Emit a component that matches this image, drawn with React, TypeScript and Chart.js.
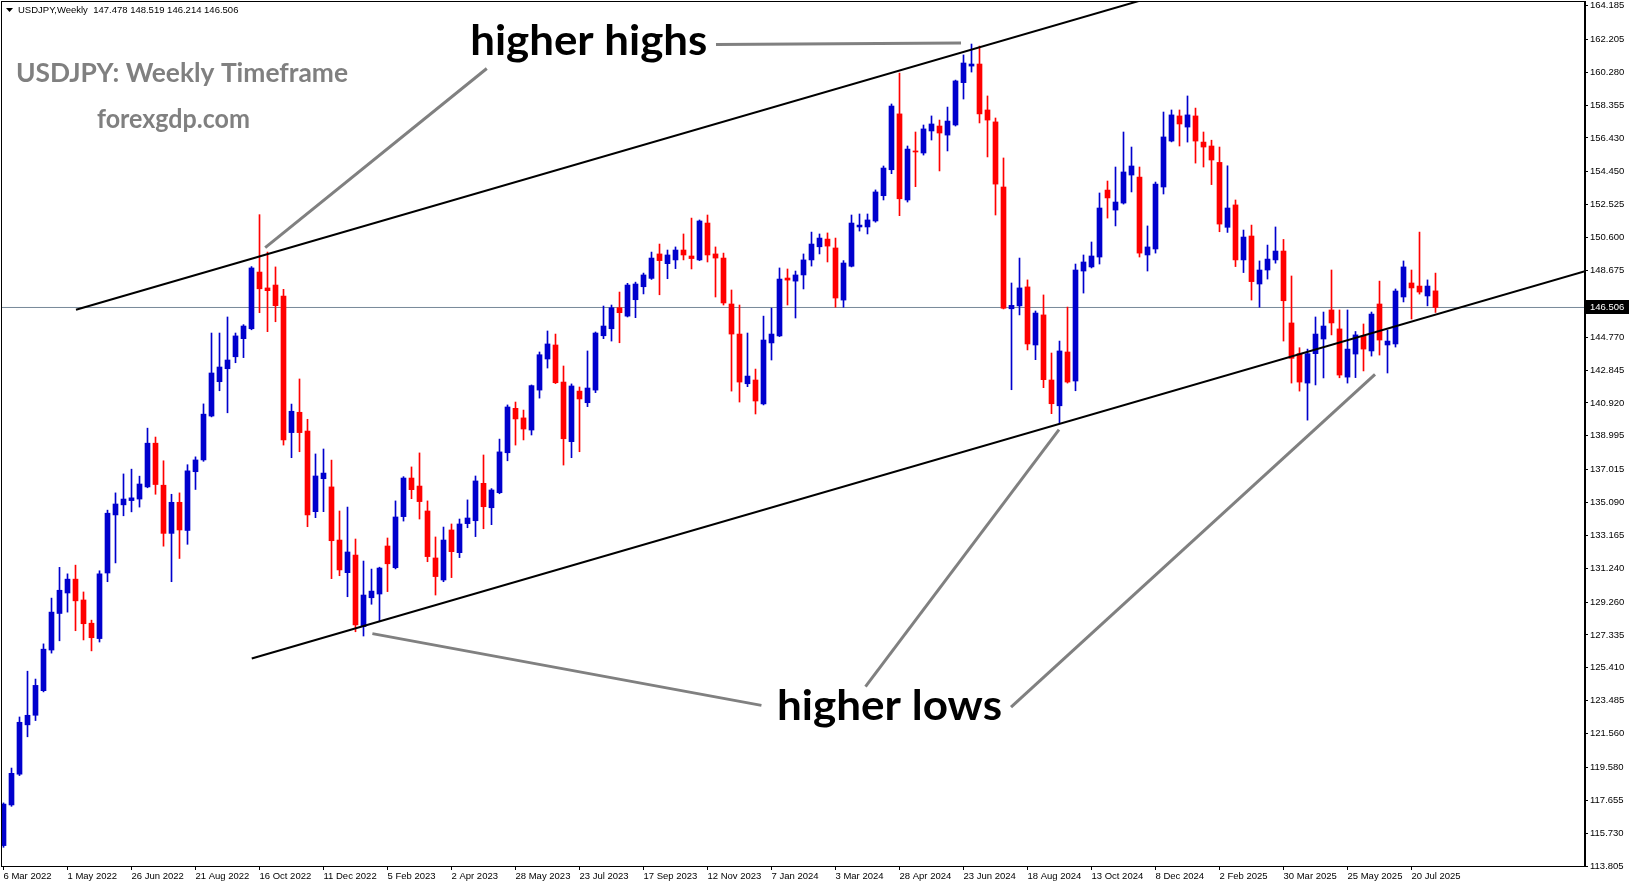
import React, { useEffect, useRef } from 'react';
import { Chart, registerables } from 'chart.js';

Chart.register(...registerables);

// ---- Weekly USDJPY candles (week index 0 = 6 Mar 2022) ----
const opens = [
  115.0, 117.38, 119.18, 122.07, 122.63, 124.07, 126.45, 128.59, 129.79, 130.6,
  129.38, 128.02, 127.12, 130.96, 134.36, 134.95, 135.2, 135.29, 136.0, 138.56,
  136.1, 133.28, 135.1, 133.45, 136.89, 137.58, 140.15, 142.16, 142.92, 143.62,
  144.68, 145.26, 148.58, 147.65, 147.82, 147.18, 139.18, 140.37, 139.27, 134.55,
  136.48, 136.0, 132.89, 130.98, 132.01, 127.82, 129.51, 129.73, 132.54, 131.27,
  134.26, 136.52, 136.05, 134.59, 131.84, 130.55, 133.48, 132.15, 133.85, 134.02,
  136.21, 134.78, 135.66, 138.0, 140.6, 140.04, 139.33, 141.67, 143.49, 144.31,
  142.14, 138.65, 141.61, 140.93, 141.67, 144.85, 145.26, 146.49, 146.0, 146.96,
  147.72, 148.21, 149.64, 149.07, 149.29, 149.87, 149.52, 149.29, 151.45, 149.64,
  149.4, 146.71, 144.95, 142.04, 142.26, 140.86, 144.43, 144.84, 148.23, 148.05,
  148.41, 149.29, 150.06, 150.51, 149.99, 146.94, 148.92, 151.22, 151.22, 151.57,
  153.05, 154.57, 157.84, 152.8, 155.67, 155.55, 156.84, 157.13, 156.6, 157.19,
  159.67, 160.64, 160.76, 158.07, 157.37, 153.56, 146.43, 146.6, 147.71, 144.31,
  146.07, 142.26, 140.75, 143.9, 142.2, 148.64, 148.88, 149.46, 153.38, 152.21,
  152.62, 154.26, 154.14, 149.58, 149.93, 153.56, 156.25, 157.72, 157.07, 157.72,
  156.19, 155.96, 155.0, 151.2, 152.51, 149.29, 150.69, 147.88, 148.7, 149.29,
  149.81, 145.6, 143.8, 142.08, 143.8, 144.66, 146.36, 145.25, 142.43, 143.78,
  144.84, 143.96, 146.71, 144.31, 144.37, 147.12, 147.94, 147.76, 147.18, 147.478,
];
const highs = [
  117.5, 119.54, 122.53, 125.21, 124.75, 126.81, 129.49, 131.29, 130.91, 131.42,
  129.85, 128.2, 131.09, 134.64, 135.65, 136.76, 137.04, 136.63, 139.44, 138.92,
  137.53, 135.57, 135.65, 137.3, 137.76, 140.86, 145.01, 145.01, 145.95, 145.01,
  145.5, 148.9, 151.94, 149.75, 148.88, 147.57, 140.85, 142.32, 139.96, 137.93,
  138.22, 137.57, 134.59, 134.82, 132.95, 131.66, 131.19, 131.3, 133.01, 135.18,
  136.6, 137.17, 137.99, 135.18, 133.07, 133.65, 133.83, 134.12, 135.24, 136.64,
  137.87, 135.9, 138.8, 140.8, 140.97, 140.5, 141.97, 143.9, 145.13, 144.95,
  143.08, 142.03, 141.85, 143.96, 145.07, 146.59, 146.65, 147.41, 147.92, 147.99,
  148.52, 149.75, 150.22, 149.87, 150.05, 150.81, 151.74, 151.63, 151.92, 150.05,
  149.69, 147.53, 146.65, 145.01, 142.9, 146.0, 146.47, 148.82, 148.76, 148.64,
  149.64, 150.92, 150.81, 150.87, 150.57, 149.25, 151.92, 151.98, 151.98, 153.39,
  154.79, 158.42, 160.23, 155.96, 156.78, 157.19, 157.72, 157.48, 158.24, 159.82,
  161.29, 161.93, 161.81, 158.89, 157.6, 155.26, 147.94, 149.4, 148.12, 146.3,
  147.24, 143.84, 144.54, 146.53, 149.05, 149.58, 150.34, 153.21, 153.91, 154.73,
  156.78, 155.9, 154.73, 151.28, 153.85, 157.95, 158.07, 158.07, 158.89, 158.18,
  156.78, 156.3, 155.9, 154.8, 152.8, 151.04, 151.33, 149.23, 150.16, 151.22,
  150.49, 148.35, 144.15, 144.07, 145.95, 146.24, 148.7, 146.36, 146.36, 145.1,
  145.54, 146.24, 148.05, 145.19, 147.59, 149.23, 148.7, 150.92, 148.12, 148.519,
];
const lows = [
  114.9, 117.3, 119.1, 121.37, 122.32, 124.0, 126.27, 126.99, 128.67, 127.58,
  127.04, 126.4, 126.92, 130.45, 131.55, 134.31, 134.54, 134.82, 135.95, 135.57,
  132.53, 130.45, 131.81, 132.64, 135.85, 137.5, 140.1, 141.63, 140.34, 143.27,
  143.57, 145.2, 146.2, 145.09, 145.67, 138.45, 137.71, 138.06, 133.67, 134.2,
  134.55, 130.63, 130.8, 129.57, 127.52, 127.27, 129.13, 128.11, 129.87, 131.2,
  134.0, 135.31, 134.12, 131.62, 129.67, 130.45, 130.69, 131.86, 133.61, 133.09,
  133.55, 133.79, 135.6, 137.53, 138.45, 138.75, 139.04, 141.2, 142.96, 142.05,
  137.28, 137.71, 138.06, 140.7, 141.52, 144.68, 144.54, 144.44, 145.95, 145.91,
  147.3, 148.15, 147.25, 148.19, 148.78, 149.29, 148.76, 149.25, 149.17, 147.12,
  146.65, 141.61, 140.97, 141.87, 140.27, 140.8, 143.43, 144.8, 146.65, 145.89,
  147.59, 148.93, 149.64, 149.17, 146.52, 146.52, 148.88, 150.98, 150.81, 151.5,
  152.8, 154.34, 151.88, 152.68, 153.58, 155.43, 156.31, 154.5, 155.67, 157.13,
  158.71, 160.29, 157.31, 155.32, 151.92, 146.42, 141.69, 146.07, 144.02, 143.45,
  141.81, 140.29, 139.72, 142.08, 141.63, 147.35, 148.82, 149.05, 151.74, 151.28,
  152.56, 153.27, 149.46, 148.64, 149.69, 153.15, 156.2, 155.96, 156.19, 154.96,
  154.73, 153.7, 150.94, 150.9, 148.9, 148.55, 146.94, 146.52, 148.17, 149.1,
  144.54, 142.08, 141.61, 139.91, 141.97, 142.38, 144.9, 142.39, 142.08, 142.4,
  142.79, 143.66, 143.72, 142.67, 144.19, 146.83, 145.83, 147.29, 146.6, 146.214,
];
const closes = [
  117.43, 119.23, 122.22, 122.63, 124.38, 126.5, 128.67, 129.95, 130.6, 129.33,
  127.99, 127.17, 130.91, 134.46, 135.0, 135.29, 135.36, 136.17, 138.56, 136.14,
  133.28, 135.1, 133.48, 136.94, 137.58, 140.26, 142.67, 143.02, 143.43, 144.84,
  145.42, 148.82, 147.6, 147.49, 146.61, 138.75, 140.43, 139.18, 134.36, 136.64,
  136.81, 132.85, 131.14, 132.19, 127.92, 129.67, 129.9, 131.25, 131.5, 134.24,
  136.52, 135.84, 135.14, 131.92, 130.75, 132.89, 132.21, 133.83, 134.18, 136.35,
  134.84, 135.82, 138.05, 140.68, 139.98, 139.39, 141.93, 143.74, 144.37, 142.1,
  138.82, 141.91, 141.15, 141.79, 145.01, 145.42, 146.49, 146.2, 147.82, 147.88,
  148.41, 149.4, 149.25, 149.58, 149.87, 149.58, 149.37, 151.57, 149.58, 149.4,
  146.77, 144.95, 142.14, 142.49, 141.03, 144.6, 144.95, 148.17, 148.11, 148.41,
  149.29, 150.22, 150.57, 150.1, 147.06, 149.11, 151.45, 151.33, 151.63, 153.27,
  154.67, 158.3, 152.87, 155.78, 155.61, 156.96, 157.25, 156.72, 157.42, 159.77,
  160.82, 160.76, 157.84, 157.48, 153.73, 146.46, 146.63, 147.65, 144.37, 146.18,
  142.28, 140.87, 143.96, 142.14, 148.7, 149.17, 149.52, 152.33, 152.92, 152.68,
  154.44, 154.79, 149.69, 150.05, 153.73, 156.49, 157.78, 157.25, 157.78, 156.25,
  155.9, 155.14, 151.39, 152.33, 149.29, 150.63, 148.02, 148.7, 149.34, 149.81,
  146.9, 143.53, 142.14, 143.8, 144.95, 145.42, 145.6, 142.55, 144.07, 144.9,
  144.07, 146.12, 144.6, 144.54, 147.47, 148.88, 147.65, 147.41, 147.76, 146.506,
];

const xTickWeeks = [0, 8, 16, 24, 32, 40, 48, 56, 64, 72, 80, 88, 96, 104, 112, 120, 128, 136, 144, 152, 160, 168, 176];
const xTickLabels = [
  '6 Mar 2022', '1 May 2022', '26 Jun 2022', '21 Aug 2022', '16 Oct 2022', '11 Dec 2022',
  '5 Feb 2023', '2 Apr 2023', '28 May 2023', '23 Jul 2023', '17 Sep 2023', '12 Nov 2023',
  '7 Jan 2024', '3 Mar 2024', '28 Apr 2024', '23 Jun 2024', '18 Aug 2024', '13 Oct 2024',
  '8 Dec 2024', '2 Feb 2025', '30 Mar 2025', '25 May 2025', '20 Jul 2025',
];
const yTickLabels = [
  '164.185', '162.205', '160.280', '158.355', '156.430', '154.450', '152.525', '150.600',
  '148.675', '146.750', '144.770', '142.845', '140.920', '138.995', '137.015', '135.090',
  '133.165', '131.240', '129.260', '127.335', '125.410', '123.485', '121.560', '119.580',
  '117.655', '115.730', '113.805',
];

const lastPrice = 146.506;
const headerText = 'USDJPY,Weekly  147.478 148.519 146.214 146.506';

// channel lines (week index, price)
const upperChannel = [{ x: 9.06, y: 146.37 }, { x: 150, y: 165.55 }];
const lowerChannel = [{ x: 31.03, y: 125.95 }, { x: 197.69, y: 148.63 }];

// grey pointer lines (week index, price)
const pointerLines = [
  [{ x: 89.06, y: 161.91 }, { x: 104.31, y: 161.95 }, { x: 119.69, y: 161.99 }],
  [{ x: 32.71, y: 150.01 }, { x: 60.41, y: 160.5 }],
  [{ x: 46.11, y: 127.41 }, { x: 94.74, y: 123.21 }],
  [{ x: 107.75, y: 124.31 }, { x: 131.94, y: 139.36 }],
  [{ x: 125.94, y: 123.11 }, { x: 171.44, y: 142.59 }],
];

// text labels: left/right week index, baseline price
const annotationTexts = [
  { text: 'higher highs', x0: 58.34, x1: 87.98, y: 161.29, size: 42, color: '#000000', bold: true },
  { text: 'higher lows', x0: 96.69, x1: 124.81, y: 122.35, size: 42, color: '#000000', bold: true },
  { text: 'USDJPY: Weekly Timeframe', x0: 1.56, x1: 43.06, y: 159.7, size: 26, color: '#808080', bold: true },
  { text: 'forexgdp.com', x0: 11.69, x1: 30.81, y: 157.01, size: 26, color: '#808080', bold: true },
];

const X_MIN = -0.3125;
const X_MAX = 197.6875;
const Y_MIN = 113.805;
const Y_MAX = 164.45;

const BLUE = 'rgb(0,0,205)';
const RED = 'rgb(255,0,0)';
const TICK_FONT = { family: "'Liberation Sans', Arial, sans-serif", size: 9.5 };

export default function App() {
  const canvasRef = useRef<HTMLCanvasElement | null>(null);

  useEffect(() => {
    document.body.style.margin = '0';
    document.body.style.overflow = 'hidden';
    const canvas = canvasRef.current;
    if (!canvas) return;

    const idx = opens.map((_, i) => i);
    const colors = idx.map((i) => (closes[i] >= opens[i] ? BLUE : RED));

    const overlay = {
      id: 'overlay',
      afterDraw(chart: any) {
        const { ctx, chartArea: a } = chart;
        const xs = chart.scales.x;
        const ys = chart.scales.y;
        ctx.save();
        // frame
        ctx.strokeStyle = '#000';
        ctx.lineWidth = 1;
        ctx.strokeRect(a.left + 0.5, a.top + 0.5, a.right - a.left - 1, a.bottom - a.top);

        // grey pointer lines
        ctx.strokeStyle = '#808080';
        ctx.lineWidth = 3;
        ctx.lineCap = 'butt';
        pointerLines.forEach((pts) => {
          ctx.beginPath();
          pts.forEach((p, k) => {
            const px = xs.getPixelForValue(p.x);
            const py = ys.getPixelForValue(p.y);
            if (k === 0) ctx.moveTo(px, py);
            else ctx.lineTo(px, py);
          });
          ctx.stroke();
        });

        // annotation texts
        annotationTexts.forEach((t) => {
          const fam = "Lato, 'Open Sans', sans-serif";
          ctx.font = `${t.bold ? 'bold ' : ''}${t.size}px ${fam}`;
          const w = ctx.measureText(t.text).width;
          const left = xs.getPixelForValue(t.x0);
          const right = xs.getPixelForValue(t.x1);
          const base = ys.getPixelForValue(t.y);
          ctx.save();
          ctx.translate(left, base);
          ctx.scale((right - left) / w, 1);
          ctx.fillStyle = t.color;
          ctx.textBaseline = 'alphabetic';
          ctx.textAlign = 'left';
          ctx.fillText(t.text, 0, 0);
          ctx.restore();
        });

        // header
        ctx.fillStyle = '#000';
        ctx.beginPath();
        ctx.moveTo(a.left + 5, a.top + 7);
        ctx.lineTo(a.left + 12, a.top + 7);
        ctx.lineTo(a.left + 8.5, a.top + 11);
        ctx.closePath();
        ctx.fill();
        ctx.font = "9.5px 'Liberation Sans', Arial, sans-serif";
        ctx.textBaseline = 'middle';
        ctx.textAlign = 'left';
        ctx.fillText(headerText, a.left + 17, a.top + 9.5);

        // current price box
        const py = Math.round(ys.getPixelForValue(lastPrice));
        ctx.fillStyle = '#000';
        ctx.fillRect(a.right + 1, py - 7, 43, 14);
        ctx.fillStyle = '#fff';
        ctx.font = "9.5px 'Liberation Sans', Arial, sans-serif";
        ctx.fillText(lastPrice.toFixed(3), a.right + 5, py);
        ctx.restore();
      },
    };

    const chart = new Chart(canvas, {
      type: 'bar',
      data: {
        datasets: [
          {
            type: 'line',
            data: upperChannel,
            borderColor: '#000',
            borderWidth: 2,
            pointRadius: 0,
            order: 0,
          } as any,
          {
            type: 'line',
            data: lowerChannel,
            borderColor: '#000',
            borderWidth: 2,
            pointRadius: 0,
            order: 0,
          } as any,
          {
            type: 'line',
            data: [{ x: X_MIN, y: lastPrice }, { x: X_MAX, y: lastPrice }],
            borderColor: 'rgb(119,136,153)',
            borderWidth: 1,
            pointRadius: 0,
            order: 3,
          } as any,
          {
            type: 'bar',
            data: idx.map((i) => ({ x: i, y: [opens[i], closes[i]] })),
            backgroundColor: colors,
            borderWidth: 0,
            barThickness: 5,
            minBarLength: 1,
            grouped: false,
            order: 1,
          } as any,
          {
            type: 'bar',
            data: idx.map((i) => ({ x: i, y: [lows[i], highs[i]] })),
            backgroundColor: colors,
            borderWidth: 0,
            barThickness: 1,
            grouped: false,
            order: 2,
          } as any,
        ],
      },
      options: {
        responsive: false,
        animation: false,
        devicePixelRatio: 1,
        events: [],
        layout: { padding: { left: 1, top: 1, right: 0, bottom: 0 } },
        plugins: { legend: { display: false }, tooltip: { enabled: false } },
        scales: {
          x: {
            type: 'linear',
            min: X_MIN,
            max: X_MAX,
            offset: false,
            grid: { display: true, drawOnChartArea: false, drawTicks: true, tickLength: 4, color: '#000', offset: false },
            border: { display: true, color: '#000' },
            ticks: {
              autoSkip: false,
              maxRotation: 0,
              minRotation: 0,
              align: 'start',
              padding: 1,
              color: '#000',
              font: TICK_FONT,
              callback: (v: any) => {
                const k = xTickWeeks.indexOf(Number(v));
                return k >= 0 ? xTickLabels[k] : '';
              },
            },
            afterBuildTicks: (s: any) => {
              s.ticks = xTickWeeks.map((v) => ({ value: v }));
            },
            afterFit: (s: any) => {
              s.height = 22;
              s.paddingLeft = 0;
              s.paddingRight = 0;
            },
          },
          y: {
            type: 'linear',
            position: 'right',
            min: Y_MIN,
            max: Y_MAX,
            grid: { display: true, drawOnChartArea: false, drawTicks: true, tickLength: 3, color: '#000' },
            border: { display: true, color: '#000' },
            ticks: {
              color: '#000',
              font: TICK_FONT,
              padding: 2,
              callback: (v: any) => Number(v).toFixed(3),
            },
            afterBuildTicks: (s: any) => {
              s.ticks = yTickLabels.map((t) => ({ value: parseFloat(t) }));
            },
            afterFit: (s: any) => {
              s.width = 46;
              s.paddingTop = 0;
              s.paddingBottom = 0;
            },
          },
        },
      } as any,
      plugins: [overlay],
    });

    return () => chart.destroy();
  }, []);

  return (
    <canvas
      ref={canvasRef}
      width={1631}
      height={888}
      style={{ display: 'block', width: '1631px', height: '888px' }}
    />
  );
}
